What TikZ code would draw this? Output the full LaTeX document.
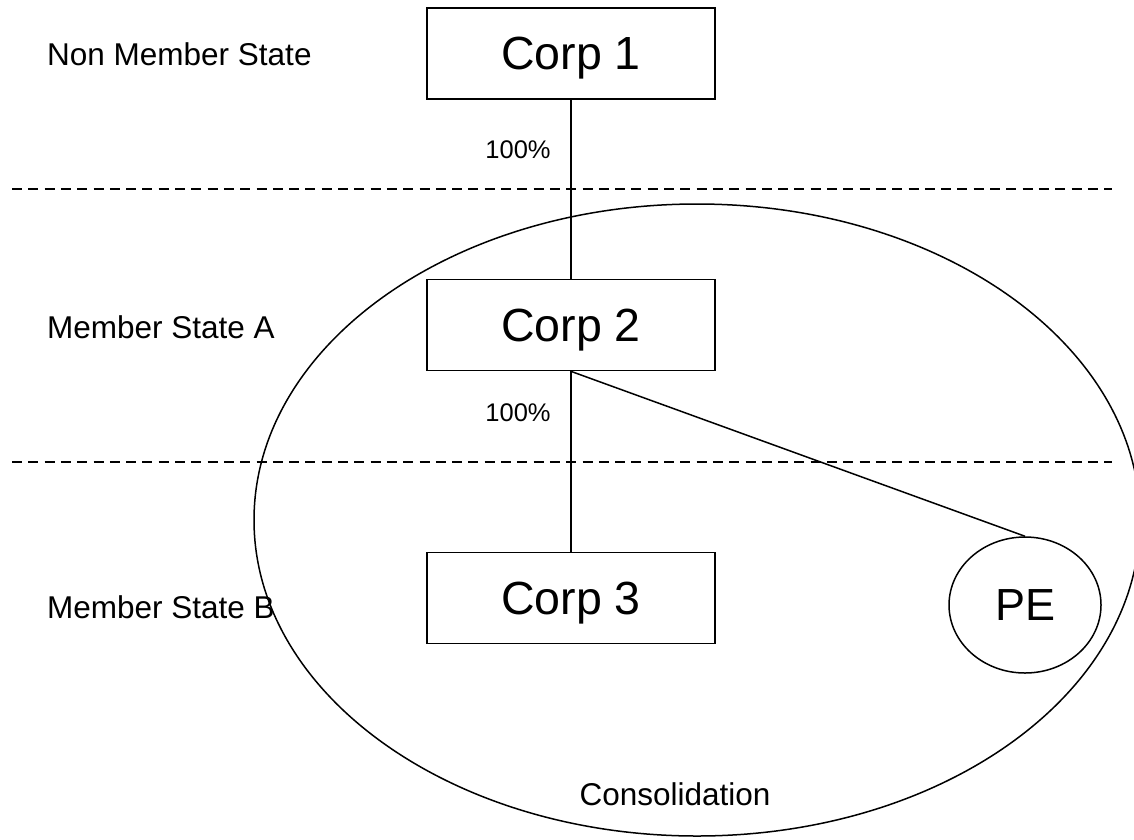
\documentclass[tikz,border=0pt]{standalone}
\usepackage{fontspec}
\setmainfont{Liberation Sans}
\usetikzlibrary{shapes.geometric}
\begin{document}
\begin{tikzpicture}[x=1pt,y=-1pt,
  corpbox/.style={draw,line width=1.7pt,minimum width=288pt,minimum height=91pt,inner sep=0pt,text depth=0pt,font=\fontsize{46.5}{50}\selectfont},
  conn/.style={line width=1.5pt},
  sep/.style={line width=1.5pt,dash pattern=on 10pt off 6.3pt},
  region/.style={font=\fontsize{31.5}{36}\selectfont,anchor=west,inner sep=0pt},
  pct/.style={font=\fontsize{25.5}{30}\selectfont,inner sep=0pt},
  oval/.style={draw,ellipse,line width=1.5pt,inner sep=0pt}]
\useasboundingbox (0,0) rectangle (1134,839);
\begin{scope}
\clip (0,0) rectangle (1134,839);
\node[oval,minimum width=886pt,minimum height=632pt] (cons) at (697,520) {};
\end{scope}
\coordinate (d1a) at (12,189);
\coordinate (d1b) at (1112,189);
\coordinate (d2a) at (12,462);
\coordinate (d2b) at (1112,462);
\draw[sep] (d1a) -- (d1b);
\draw[sep] (d2a) -- (d2b);
\node[corpbox] (c1) at (571,53.5) {Corp 1};
\node[corpbox] (c2) at (571,325) {Corp 2};
\node[corpbox] (c3) at (571,598) {Corp 3};
\node[oval,minimum width=152pt,minimum height=136pt,font=\fontsize{45}{50}\selectfont] (pe) at (1025,605) {PE};
\draw[conn] (c1.south) -- (c2.north);
\draw[conn] (c2.south) -- (c3.north);
\draw[conn] (c2.south) -- (pe.north);
\node[pct] (p1) at (518,150) {100\%};
\node[pct] (p2) at (518,413) {100\%};
\node[region] (r1) at (47,54) {Non Member State};
\node[region] (r2) at (47,327) {Member State A};
\node[region] (r3) at (47,607) {Member State B};
\node[font=\fontsize{31.5}{36}\selectfont,inner sep=0pt] (lab) at (675,794) {Consolidation};
\end{tikzpicture}
\end{document}
